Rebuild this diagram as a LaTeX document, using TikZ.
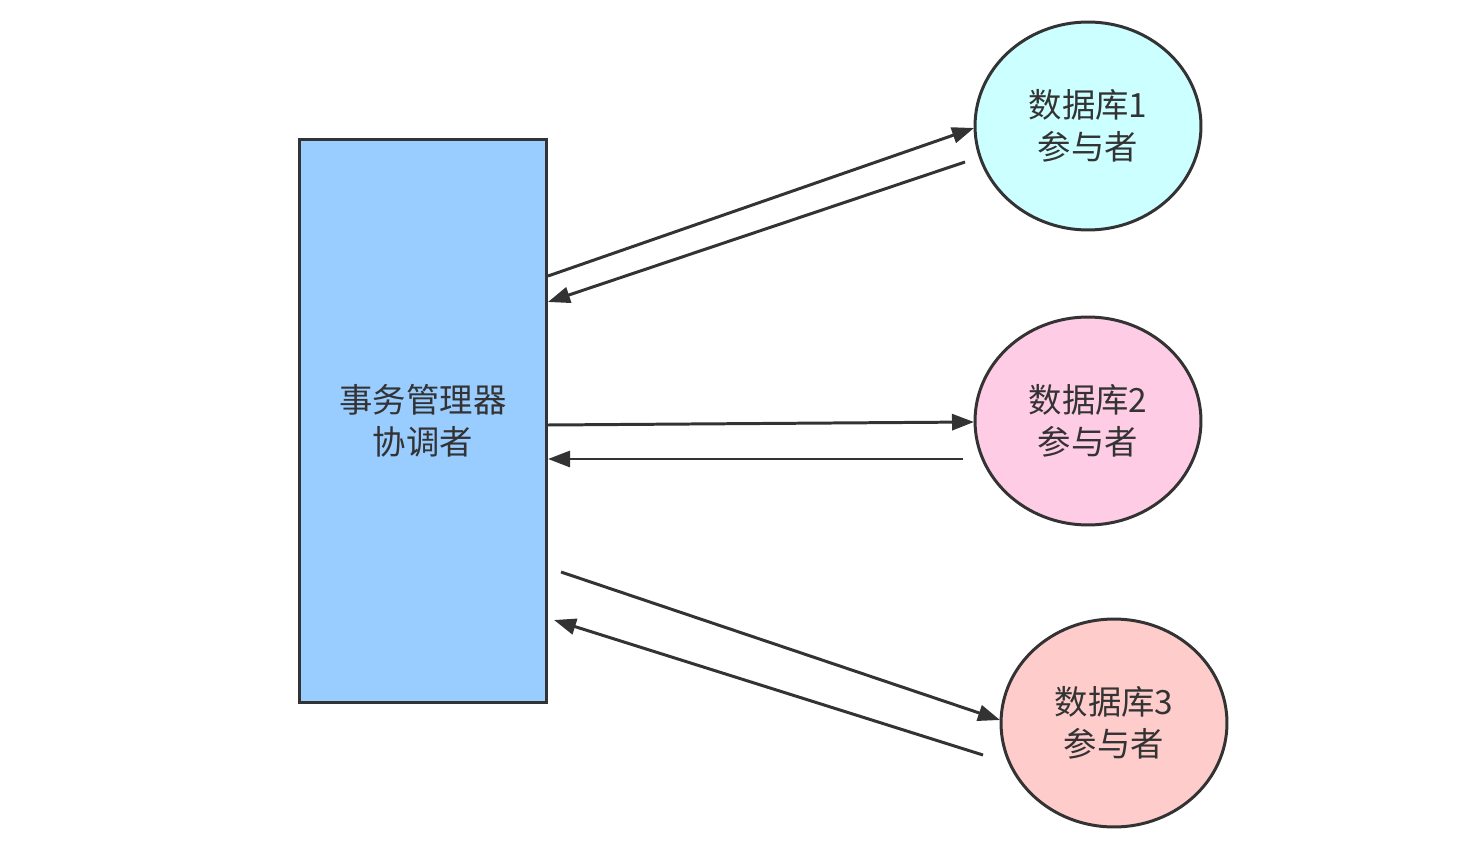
\documentclass[tikz,border=0pt]{standalone}
\usepackage{fontspec}
\newfontfamily\cjk{Noto Sans CJK SC}
\usetikzlibrary{shapes.geometric,arrows.meta}
\definecolor{boxblue}{HTML}{99CCFF}
\definecolor{dbcyan}{HTML}{CCFFFF}
\definecolor{dbpink}{HTML}{FFCCE6}
\definecolor{dbrose}{HTML}{FFCCCC}
\definecolor{ink}{HTML}{333333}
\tikzset{
  base/.style={draw=ink, line width=1.7pt, text=ink, font=\cjk\fontsize{19}{24}\selectfont, align=center, inner sep=0pt},
  coord/.style={base, rectangle, minimum width=4.96cm, minimum height=11.28cm, fill=boxblue},
  db/.style={base, ellipse, minimum width=4.52cm, minimum height=4.16cm},
  msg/.style={draw=ink, line width=1.7pt, -{Triangle[length=0.44cm,width=0.32cm]}}
}
\begin{document}
\begin{tikzpicture}[x=0.02cm,y=-0.02cm]
\useasboundingbox (0,0) rectangle (1480,868);
\node[coord] (tm) at (423,421) {事务管理器\\协调者};
\node[db, fill=dbcyan] (db1) at (1088,126) {数据库1\\参与者};
\node[db, fill=dbpink] (db2) at (1088,421) {数据库2\\参与者};
\node[db, fill=dbrose] (db3) at (1114,723) {数据库3\\参与者};
% endpoints
\coordinate (a1s) at (548,276);
\coordinate (a1e) at (974,128);
\coordinate (b1s) at (965,162);
\coordinate (b1e) at (548,302);
\coordinate (a2s) at (548,425);
\coordinate (a2e) at (974,422);
\coordinate (b2s) at (963,459);
\coordinate (b2e) at (548,459);
\coordinate (a3s) at (561,572);
\coordinate (a3e) at (1000,720);
\coordinate (b3s) at (983,755);
\coordinate (b3e) at (554,620);
\draw[msg] (a1s) -- (a1e);
\draw[msg] (b1s) -- (b1e);
\draw[msg] (a2s) -- (a2e);
\draw[msg] (b2s) -- (b2e);
\draw[msg] (a3s) -- (a3e);
\draw[msg] (b3s) -- (b3e);
\end{tikzpicture}
\end{document}
